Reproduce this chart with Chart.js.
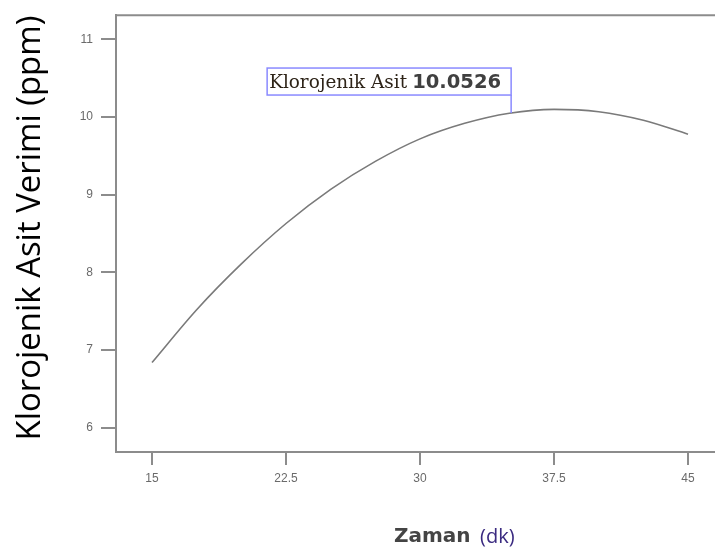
<!DOCTYPE html>
<html>
<head>
<meta charset="utf-8">
<script src="https://cdn.jsdelivr.net/npm/chart.js@4"></script>
<style>
  html, body { margin: 0; padding: 0; background: #fff; }
  #c { display: block; }
</style>
</head>
<body>
<canvas id="c" width="715" height="552"></canvas>
<script>
// values
var zaman = [15, 17.5, 20, 22.5, 25, 27.5, 30, 32.5, 35, 37.5, 40, 42.5, 45];
var verim = [6.84, 7.52, 8.11, 8.63, 9.07, 9.43, 9.72, 9.92, 10.05, 10.10, 10.07, 9.96, 9.78];
var xTicks = [15, 22.5, 30, 37.5, 45];
var yTicks = [6, 7, 8, 9, 10, 11];
var noteX = 35.1;
var noteY = 10.0526;

var axisGray = '#8c8c8c';

// pick a font size so the text takes a given width
function fitSize(c, text, family, weight, target) {
    c.font = weight + ' 20px ' + family;
    return 20 * target / c.measureText(text).width;
}

var framePlugin = {
    id: 'frame',
    afterDraw: function (chart) {
        var c = chart.ctx, a = chart.chartArea;
        var xs = chart.scales.x, ys = chart.scales.y;
        c.save();
        // top border
        c.strokeStyle = axisGray;
        c.lineWidth = 2;
        c.beginPath();
        c.moveTo(a.left, a.top);
        c.lineTo(a.right, a.top);
        c.stroke();

        // annotation box
        var px = xs.getPixelForValue(noteX);
        var py = ys.getPixelForValue(noteY);
        var t1 = 'Klorojenik Asit';
        var t2 = '10.0526';
        var s1 = fitSize(c, t1, '"DejaVu Serif"', 'normal', 138);
        var s2 = fitSize(c, t2, '"DejaVu Sans"', 'bold', 89);
        var bx = px - 244, by = py - 18 - 27, bw = 244, bh = 27;
        c.fillStyle = '#fff';
        c.fillRect(bx, by, bw, bh);
        c.strokeStyle = '#8a8aff';
        c.lineWidth = 1.5;
        c.strokeRect(bx, by, bw, bh);
        c.beginPath();
        c.moveTo(px, by + bh);
        c.lineTo(px, py);
        c.stroke();
        c.textBaseline = 'alphabetic';
        c.textAlign = 'left';
        c.fillStyle = '#2e2418';
        c.font = s1 + 'px "DejaVu Serif"';
        c.fillText(t1, bx + 2, by + 20);
        c.fillStyle = '#404040';
        c.font = 'bold ' + s2 + 'px "DejaVu Sans"';
        c.fillText(t2, bx + 145, by + 20);

        // y axis title
        var yt = 'Klorojenik Asit Verimi (ppm)';
        var sy = fitSize(c, yt, '"Open Sans"', 'normal', 425);
        c.save();
        c.translate(31, 228);
        c.rotate(-Math.PI / 2);
        c.textAlign = 'center';
        c.textBaseline = 'middle';
        c.fillStyle = '#000';
        c.font = sy + 'px "Open Sans"';
        c.fillText(yt, 0, 0);
        c.restore();

        // x axis title
        c.textAlign = 'left';
        c.textBaseline = 'middle';
        c.font = 'bold 20px "DejaVu Sans"';
        c.fillStyle = '#444';
        c.fillText('Zaman', 394, 537);
        c.font = '20px "Open Sans"';
        c.fillStyle = '#3a2a80';
        c.fillText('(dk)', 480, 537);
        c.restore();
    }
};

new Chart(document.getElementById('c'), {
    type: 'line',
    data: {
        datasets: [{
            label: 'Klorojenik Asit',
            data: zaman.map(function (x, i) { return { x: x, y: verim[i] }; }),
            borderColor: '#7a7a7a',
            borderWidth: 1.6,
            pointRadius: 0,
            cubicInterpolationMode: 'monotone',
            fill: false
        }]
    },
    options: {
        responsive: false,
        animation: { duration: 0 },
        layout: { padding: { left: 0, right: 0, top: 11, bottom: 0 } },
        plugins: {
            legend: { display: false },
            tooltip: { enabled: false }
        },
        scales: {
            x: {
                type: 'linear',
                min: 12.985,
                max: 46.51,
                afterBuildTicks: function (s) { s.ticks = xTicks.map(function (v) { return { value: v }; }); },
                afterFit: function (s) { s.height = 100; },
                grid: { drawOnChartArea: false, drawTicks: true, tickLength: 13, color: axisGray, lineWidth: 2 },
                border: { display: true, color: axisGray, width: 2 },
                ticks: {
                    padding: 6,
                    color: '#6a6a6a',
                    font: { family: 'Liberation Sans', size: 12 },
                    maxRotation: 0,
                    callback: function (v) { return String(v); }
                }
            },
            y: {
                type: 'linear',
                min: 5.6875,
                max: 11.3125,
                afterBuildTicks: function (s) { s.ticks = yTicks.map(function (v) { return { value: v }; }); },
                afterFit: function (s) { s.width = 116; },
                grid: { drawOnChartArea: false, drawTicks: true, tickLength: 15, color: axisGray, lineWidth: 2 },
                border: { display: true, color: axisGray, width: 2 },
                ticks: {
                    padding: 8,
                    color: '#6a6a6a',
                    font: { family: 'Liberation Sans', size: 12 },
                    callback: function (v) { return String(v); }
                }
            }
        }
    },
    plugins: [framePlugin]
});
</script>
</body>
</html>
